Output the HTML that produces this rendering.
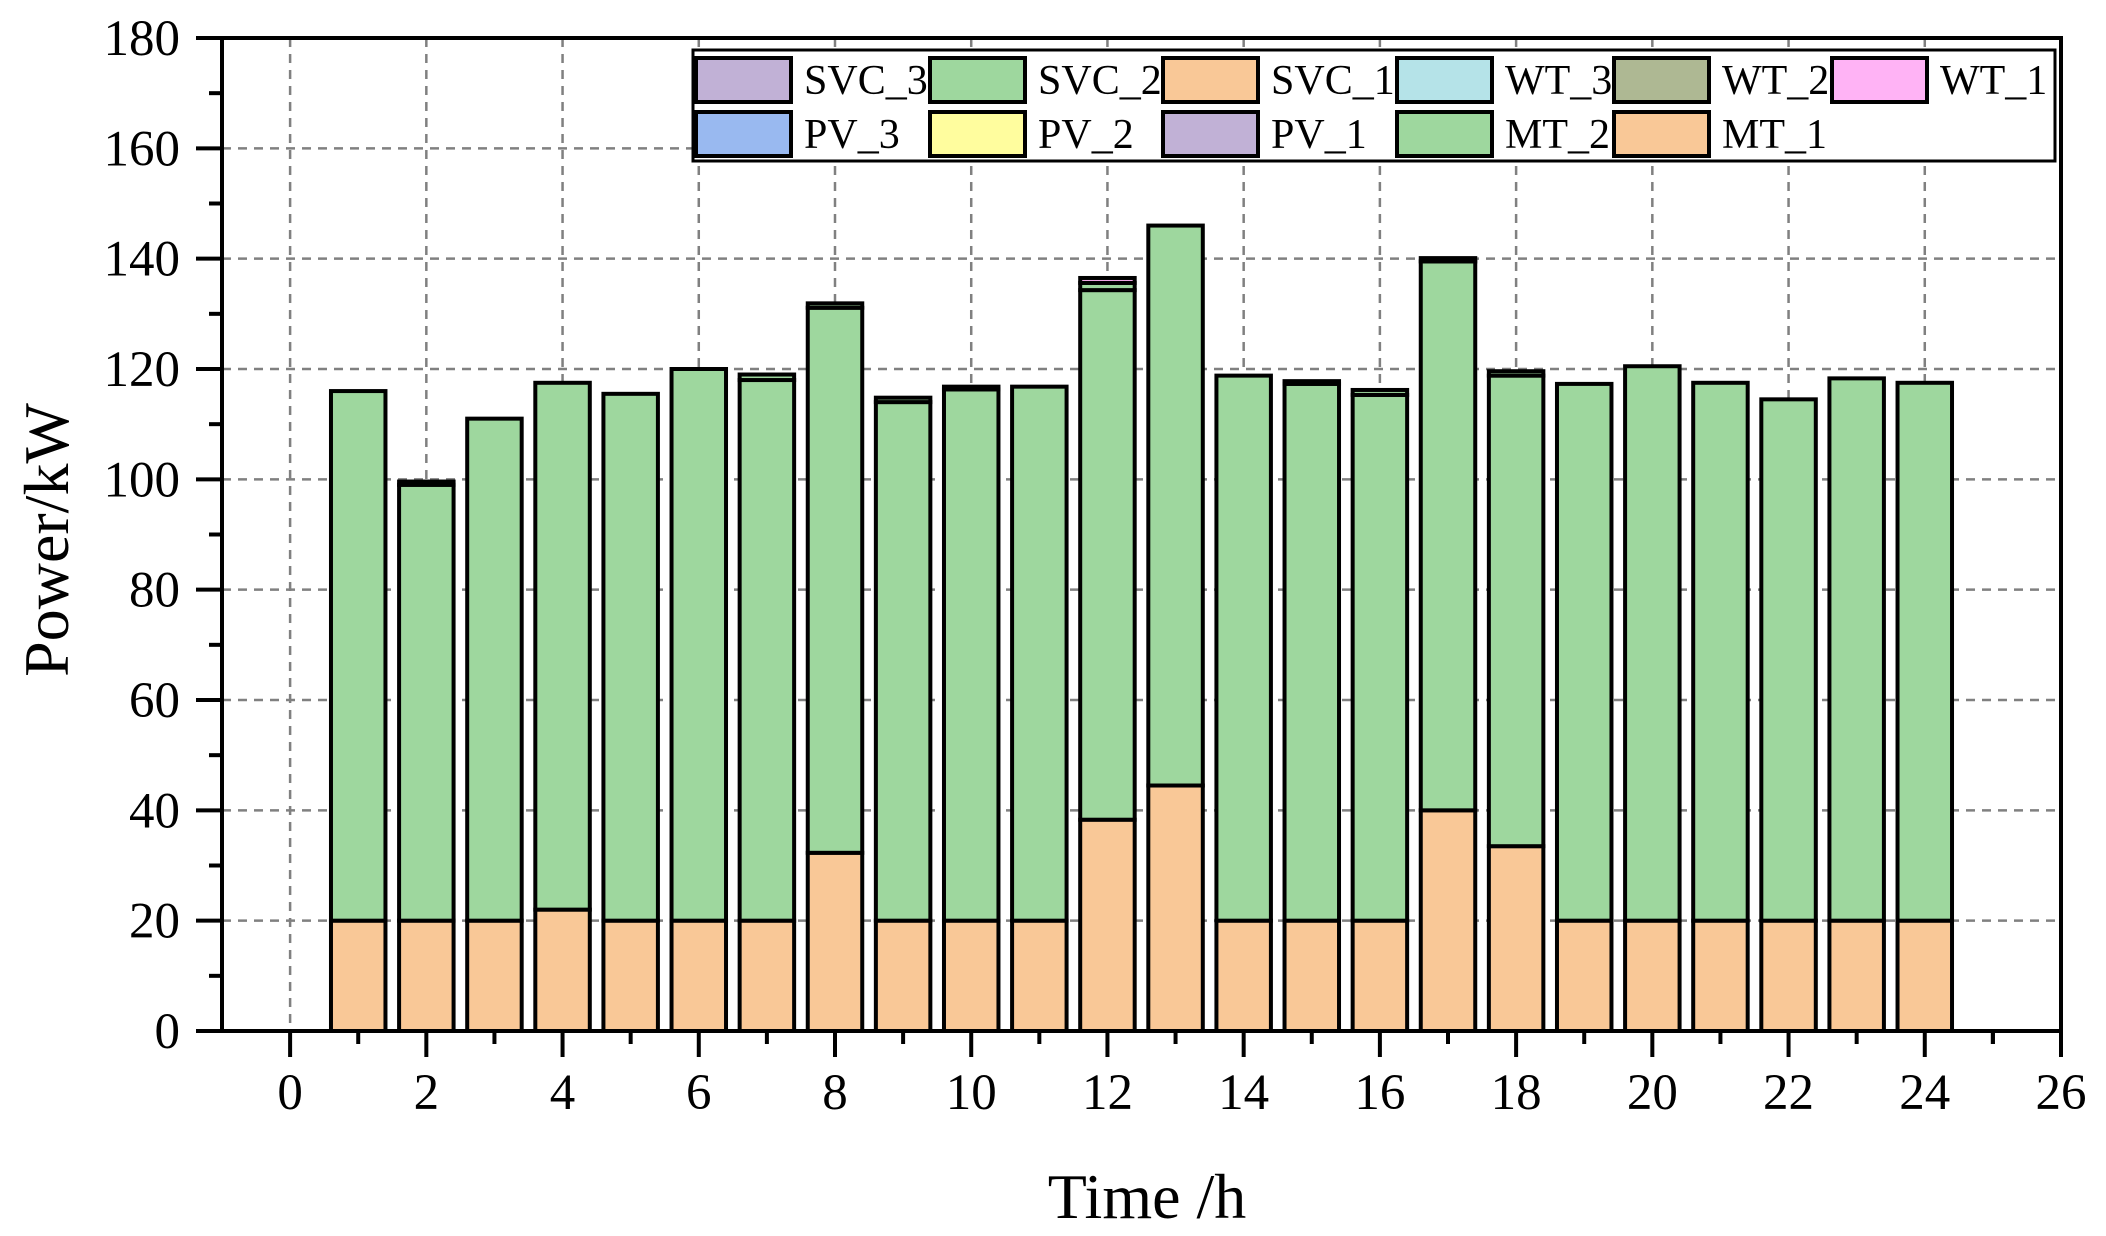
<!DOCTYPE html>
<html><head><meta charset="utf-8">
<style>
html,body{margin:0;padding:0;background:#fff;}
svg{display:block;font-family:"Liberation Serif",serif;}
</style></head>
<body>
<svg id="chart" width="2106" height="1236" viewBox="0 0 2106 1236" xmlns="http://www.w3.org/2000/svg"></svg>
<script>
const hours = [1,2,3,4,5,6,7,8,9,10,11,12,13,14,15,16,17,18,19,20,21,22,23,24];
const mt1 = [20,20,20,22,20,20,20,32.3,20,20,20,38.3,44.5,20,20,20,40,33.5,20,20,20,20,20,20];
const mt2 = [96,79,91,95.5,95.5,100,98,98.8,94,96.3,96.8,96,101.5,98.8,97.3,95.3,99.5,85.3,97.3,100.5,97.5,94.5,98.3,97.5];
const svc = [0,0.6,0,0,0,0,1,0.8,0.8,0.5,0,1.3,0,0,0.5,0.9,0.6,0.8,0,0,0,0,0,0];
const wt1 = [0,0,0,0,0,0,0,0,0,0,0,0.9,0,0,0,0,0,0,0,0,0,0,0,0];
const xTicks = [0,2,4,6,8,10,12,14,16,18,20,22,24,26];
const yTicks = [0,20,40,60,80,100,120,140,160,180];
const legendLabels = [["SVC_3","SVC_2","SVC_1","WT_3","WT_2","WT_1"],["PV_3","PV_2","PV_1","MT_2","MT_1"]];
const legendColors = [["#c1b1d6","#9ed79e","#f9c897","#b5e3e8","#aeb893","#ffb3f5"],["#99b9f0","#fffd9e","#c1b1d6","#9ed79e","#f9c897"]];

const svg = document.getElementById('chart');
const NS = 'http://www.w3.org/2000/svg';
const L=222, R=2061, T=38, B=1031, XMIN=-1, XMAX=26, YMAX=180;
const xs = v => L + (v - XMIN) / (XMAX - XMIN) * (R - L);
const ys = v => B - v / YMAX * (B - T);
function mk(tag, attrs, parent){const e=document.createElementNS(NS,tag);for(const k in attrs)e.setAttribute(k,attrs[k]);(parent||svg).appendChild(e);return e;}

const grid = mk('g',{});


xTicks.forEach(t=>{ if(t>XMIN && t<XMAX) mk('line',{x1:xs(t),x2:xs(t),y1:T,y2:B,stroke:'#808080','stroke-width':2.5,'stroke-dasharray':'9 7'},grid);});
yTicks.forEach(t=>{ if(t>0 && t<YMAX) mk('line',{x1:L,x2:R,y1:ys(t),y2:ys(t),stroke:'#808080','stroke-width':2.5,'stroke-dasharray':'9 7'},grid);});

const bw = 0.8;
hours.forEach((h,i)=>{
  const g = mk('g',{});
  
  
  let base=0;
  const segs=[[mt1[i],'#f9c897'],[mt2[i],'#9ed79e'],[svc[i],'#9ed79e'],[wt1[i],'#ffb3f5']];
  segs.forEach(([v,c])=>{
    if(v<=0) return;
    mk('rect',{x:xs(h-bw/2),y:ys(base+v),width:xs(h+bw/2)-xs(h-bw/2),height:ys(base)-ys(base+v),fill:c,stroke:'#000','stroke-width':4},g);
    base+=v;
  });
});

const ax = mk('g',{});


mk('rect',{x:L,y:T,width:R-L,height:B-T,fill:'none',stroke:'#000','stroke-width':4},ax);
yTicks.forEach(t=>{
  mk('line',{x1:L-26,x2:L,y1:ys(t),y2:ys(t),stroke:'#000','stroke-width':4},ax);
  if(t<YMAX) mk('line',{x1:L-13,x2:L,y1:ys(t+10),y2:ys(t+10),stroke:'#000','stroke-width':4},ax);
  const tx = mk('text',{x:L-42,y:ys(t)+17,'text-anchor':'end','font-size':51},ax);
  tx.textContent=t;
  
  
});
xTicks.forEach(t=>{
  mk('line',{x1:xs(t),x2:xs(t),y1:B,y2:B+26,stroke:'#000','stroke-width':4},ax);
  if(t-1>XMIN) mk('line',{x1:xs(t-1),x2:xs(t-1),y1:B,y2:B+13,stroke:'#000','stroke-width':4},ax);
  const tx = mk('text',{x:xs(t),y:B+78,'text-anchor':'middle','font-size':51},ax);
  tx.textContent=t;
  
  
});
mk('line',{x1:xs(25),x2:xs(25),y1:B,y2:B+13,stroke:'#000','stroke-width':4},ax);

const yt = mk('text',{x:0,y:0,transform:'translate(68,540) rotate(-90)','text-anchor':'middle','font-size':64});
yt.textContent='Power/kW';


const xt = mk('text',{x:1147,y:1218,'text-anchor':'middle','font-size':64});
xt.textContent='Time /h';



const lg = mk('g',{});


mk('rect',{x:693,y:50,width:1370-8,height:111,fill:'#fff',stroke:'#000','stroke-width':3},lg);
const colX=[698,934,1169,1405,1623,1843].map(v=>Math.round(693+(v-693)*0.992-4));
const rowY=[56,110];
legendLabels.forEach((row,r)=>row.forEach((lab,c)=>{
  const e = mk('g',{},lg);
  
  
  mk('rect',{x:colX[c]+2,y:rowY[r]+2,width:95,height:44,fill:legendColors[r][c],stroke:'#000','stroke-width':4},e);
  const t = mk('text',{x:colX[c]+110,y:rowY[r]+38,'font-size':42},e);
  t.textContent=lab;
}));
</script>
</body></html>
